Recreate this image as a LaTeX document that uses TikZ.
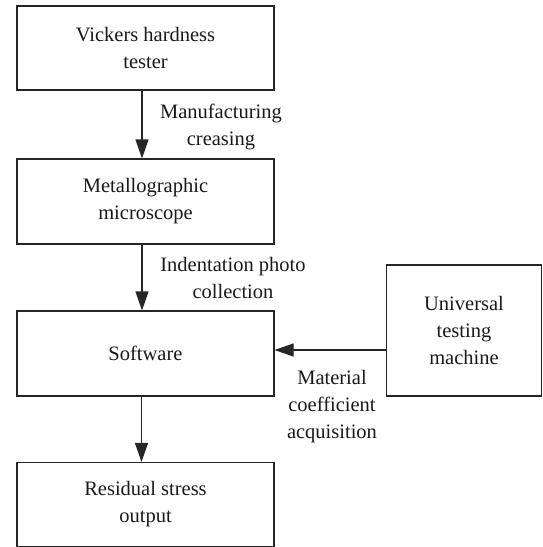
\documentclass[tikz,border=0pt]{standalone}
\usepackage{fontspec}
\setmainfont{Liberation Serif}
\usetikzlibrary{arrows.meta}
\begin{document}
\begin{tikzpicture}[x=1pt,y=-1pt,
  every node/.style={font=\fontsize{20.5}{27}\selectfont, align=center, text=black!90},
  box/.style={draw=black!85, line width=1.1pt, inner sep=0pt},
  lbl/.style={inner sep=0pt},
  arr/.style={line width=1.1pt, draw=black!85, -{Triangle[length=19pt,width=13pt]}}]
\useasboundingbox (0,0) rectangle (543,547);
\node[box, minimum width=257pt, minimum height=84pt] (v) at (145.5,48) {Vickers hardness\\tester};
\node[box, minimum width=257pt, minimum height=85pt] (m) at (145.5,201.5) {Metallographic\\microscope};
\node[box, minimum width=257pt, minimum height=85pt] (s) at (145.5,353.5) {Software};
\node[box, minimum width=257pt, minimum height=84pt] (r) at (145.5,504.5) {Residual stress\\output};
\node[box, minimum width=155pt, minimum height=131pt] (u) at (464,330.5) {Universal\\testing\\machine};
\node[lbl] (l1) at (221,127) {Manufacturing\\creasing};
\node[lbl] (l2) at (233,278) {Indentation photo\\collection};
\node[lbl] (l3) at (332,407) {Material\\coefficient\\acquisition};
\draw[arr] ([xshift=-3.5pt]v.south) -- ([xshift=-3.5pt]m.north);
\draw[arr] ([xshift=-3.5pt]m.south) -- ([xshift=-3.5pt]s.north);
\draw[arr] ([xshift=-4pt]s.south) -- ([xshift=-4pt]r.north);
\draw[arr] ([yshift=3.5pt]u.west |- s.east) -- ([yshift=3.5pt]s.east);
\end{tikzpicture}
\end{document}
